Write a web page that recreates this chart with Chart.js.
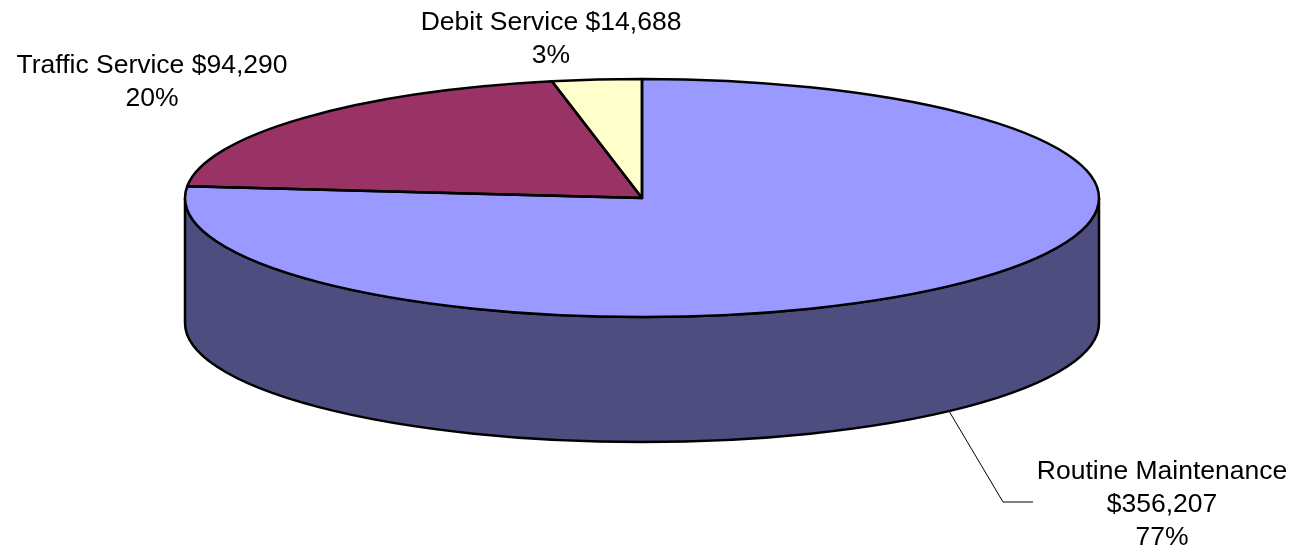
<!DOCTYPE html>
<html>
<head>
<meta charset="utf-8">
<style>
  html, body { margin: 0; padding: 0; background: #fff; overflow: hidden; }
  canvas { display: block; }
</style>
<script src="https://cdn.jsdelivr.net/npm/chart.js@4/dist/chart.umd.min.js"></script>
</head>
<body>
<canvas id="pie" width="1293" height="553"></canvas>
<script>
// Budget breakdown, clockwise from twelve o'clock
const categories = ['Routine Maintenance', 'Traffic Service', 'Debit Service'];
const amounts = [356207, 94290, 14688];
const sliceColors = ['#9999FF', '#993366', '#FFFFCC'];
const wallColors = ['#4D4D80', '#4D1A33', '#808066'];

// Label text lines and their horizontal centres / first baselines
const labelLines = [
  ['Routine Maintenance', '$356,207', '77%'],
  ['Traffic Service $94,290', '20%'],
  ['Debit Service $14,688', '3%']
];
const labelAnchors = [[1162, 479], [152, 73], [551, 30]];
const leaderLine = [[949, 411], [1003, 502], [1033, 502]];

// Tilted disc geometry
const DISC = { cx: 642, cy: 198, rx: 457, ry: 119, depth: 125 };
const LINE = '#000000';

// Puts the drawing context in the tilted disc's space for one arc element
function tilt(ctx, arc, dy) {
  const s = arc.outerRadius;
  ctx.translate(DISC.cx, DISC.cy + dy);
  ctx.scale(DISC.rx / s, DISC.ry / s);
  ctx.translate(-arc.x, -arc.y);
}

// Front-facing part of an arc's sweep (canvas angles 0..PI are the near side)
function frontSweep(arc) {
  const tau = Math.PI * 2;
  let a = arc.startAngle, b = arc.endAngle;
  const k = Math.floor(a / tau);
  a -= k * tau; b -= k * tau;
  const spans = [];
  [[0, Math.PI], [tau, tau + Math.PI]].forEach(([lo, hi]) => {
    const s = Math.max(a, lo), e = Math.min(b, hi);
    if (e > s) spans.push([s, e]);
  });
  return spans;
}

const discPlugin = {
  id: 'tiltedDisc',
  beforeDatasetsDraw(chart) {
    const ctx = chart.ctx;
    const arcs = chart.getDatasetMeta(0).data;
    // Side wall below the rim
    arcs.forEach((arc, i) => {
      frontSweep(arc).forEach(([s, e]) => {
        ctx.save();
        ctx.beginPath();
        const r = arc.outerRadius, q = DISC.depth * r / DISC.ry;
        tilt(ctx, arc, 0);
        ctx.arc(arc.x, arc.y, r, s, e);
        ctx.lineTo(arc.x + r * Math.cos(e), arc.y + r * Math.sin(e) + q);
        ctx.arc(arc.x, arc.y + q, r, e, s, true);
        ctx.closePath();
        ctx.setTransform(1, 0, 0, 1, 0, 0);
        ctx.fillStyle = wallColors[i];
        ctx.fill();
        ctx.strokeStyle = LINE;
        ctx.lineWidth = 2.5;
        ctx.stroke();
        ctx.restore();
      });
    });
    // Top face: the library's arcs are drawn under this transform
    ctx.save();
    tilt(ctx, arcs[0], 0);
  },
  afterDatasetsDraw(chart) {
    const ctx = chart.ctx;
    ctx.restore();
    const arcs = chart.getDatasetMeta(0).data;
    // Even-width outlines of each slice
    arcs.forEach(arc => {
      ctx.save();
      ctx.beginPath();
      tilt(ctx, arc, 0);
      ctx.moveTo(arc.x, arc.y);
      ctx.arc(arc.x, arc.y, arc.outerRadius, arc.startAngle, arc.endAngle);
      ctx.closePath();
      ctx.setTransform(1, 0, 0, 1, 0, 0);
      ctx.strokeStyle = LINE;
      ctx.lineWidth = 2.5;
      ctx.lineJoin = 'round';
      ctx.stroke();
      ctx.restore();
    });
    // Leader line
    ctx.save();
    ctx.beginPath();
    leaderLine.forEach(([x, y], i) => i ? ctx.lineTo(x, y) : ctx.moveTo(x, y));
    ctx.strokeStyle = '#000';
    ctx.lineWidth = 1;
    ctx.stroke();
    // Slice labels
    ctx.fillStyle = '#000';
    ctx.font = '26.5px "Liberation Sans", Arial, sans-serif';
    ctx.textAlign = 'center';
    ctx.textBaseline = 'alphabetic';
    labelLines.forEach((lines, i) => {
      lines.forEach((t, j) => ctx.fillText(t, labelAnchors[i][0], labelAnchors[i][1] + j * 33));
    });
    ctx.restore();
  }
};

new Chart(document.getElementById('pie'), {
  type: 'pie',
  data: {
    labels: categories,
    datasets: [{
      data: amounts,
      backgroundColor: sliceColors,
      borderWidth: 0
    }]
  },
  options: {
    responsive: false,
    animation: false,
    rotation: 0,
    layout: { padding: 0 },
    plugins: { legend: { display: false }, tooltip: { enabled: false }, title: { display: false } }
  },
  plugins: [discPlugin]
});
</script>
</body>
</html>
